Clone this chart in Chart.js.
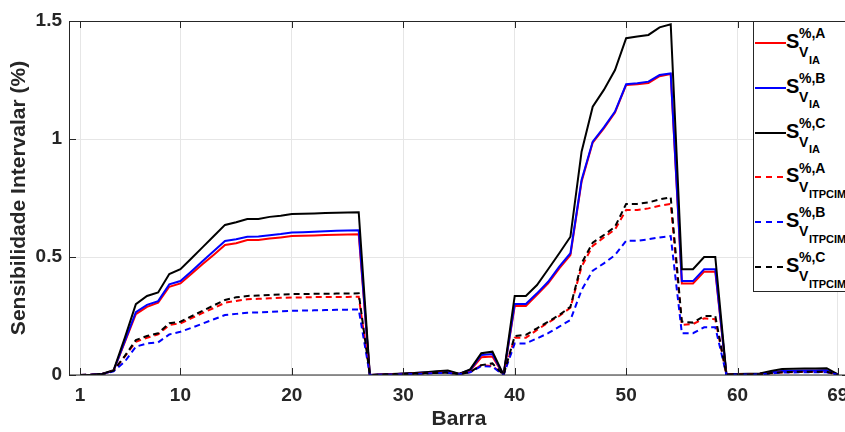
<!DOCTYPE html>
<html>
<head>
<meta charset="utf-8">
<script src="https://cdn.jsdelivr.net/npm/chart.js@4.4.0/dist/chart.umd.min.js"></script>
<style>
  html, body { margin: 0; padding: 0; background: #fff; }
  #wrap { position: relative; width: 845px; height: 432px; overflow: hidden; background: #fff; }
  #wrap canvas { position: absolute; left: 0; top: 0; }
  .leg-box { position: absolute; left: 753px; top: 21px; width: 120px; height: 269px; border: 1px solid #262626; background: #fff; }
  .leg { position: absolute; font-family: 'Liberation Sans', Arial, Helvetica, sans-serif; font-weight: bold; color: #000; white-space: nowrap; }
  .leg svg { position: absolute; }
</style>
</head>
<body>
<div id="wrap">
  <canvas id="chart" width="880" height="432"></canvas>
  <div class="leg-box"></div>
  <div id="legend"></div>
</div>
<script>
// Barras 1..69
const barras = Array.from({ length: 69 }, (_, i) => i + 1);
const xTicks = [1, 10, 20, 30, 40, 50, 60, 69];
const yTicks = [0, 0.5, 1, 1.5];

// Sensibilidade intervalar (%) - metodo IA
const sIA_A = [
  0, 0.001, 0.004, 0.018, 0.138, 0.258, 0.289, 0.306, 0.374, 0.388,
  0.429, 0.470, 0.510, 0.551, 0.558, 0.572, 0.572, 0.578, 0.583, 0.589,
  0.590, 0.591, 0.593, 0.594, 0.595, 0.596, 0, 0.002, 0.003, 0.005,
  0.007, 0.010, 0.013, 0.015, 0.004, 0.019, 0.075, 0.078, 0, 0.292,
  0.292, 0.340, 0.388, 0.452, 0.508, 0.819, 0.985, 1.045, 1.112, 1.229,
  1.232, 1.237, 1.266, 1.275, 0.388, 0.388, 0.438, 0.438, 0.002, 0.003,
  0.004, 0.005, 0.011, 0.016, 0.017, 0.018, 0.018, 0.019, 0.002
];
const sIA_B = [
  0, 0.001, 0.004, 0.018, 0.142, 0.266, 0.297, 0.313, 0.384, 0.398,
  0.440, 0.483, 0.525, 0.568, 0.575, 0.586, 0.587, 0.592, 0.597, 0.604,
  0.605, 0.607, 0.609, 0.611, 0.612, 0.613, 0, 0.002, 0.003, 0.005,
  0.008, 0.011, 0.014, 0.016, 0.004, 0.021, 0.085, 0.089, 0, 0.301,
  0.301, 0.346, 0.395, 0.459, 0.516, 0.826, 0.989, 1.049, 1.116, 1.232,
  1.236, 1.243, 1.271, 1.278, 0.398, 0.398, 0.448, 0.448, 0.002, 0.003,
  0.004, 0.005, 0.012, 0.017, 0.018, 0.019, 0.019, 0.020, 0.002
];
const sIA_C = [
  0, 0.001, 0.005, 0.020, 0.156, 0.300, 0.335, 0.350, 0.428, 0.448,
  0.495, 0.542, 0.589, 0.636, 0.647, 0.661, 0.661, 0.670, 0.675, 0.682,
  0.683, 0.684, 0.686, 0.688, 0.689, 0.690, 0, 0.002, 0.004, 0.006,
  0.009, 0.012, 0.016, 0.019, 0.005, 0.024, 0.092, 0.099, 0, 0.335,
  0.335, 0.381, 0.448, 0.516, 0.586, 0.946, 1.137, 1.208, 1.292, 1.427,
  1.434, 1.441, 1.473, 1.486, 0.448, 0.448, 0.500, 0.500, 0.003, 0.004,
  0.005, 0.006, 0.017, 0.025, 0.027, 0.028, 0.028, 0.029, 0.003
];

// Sensibilidade intervalar (%) - metodo ITPCIM
const sIT_A = [
  0, 0.001, 0.004, 0.018, 0.078, 0.141, 0.158, 0.172, 0.212, 0.219,
  0.241, 0.263, 0.284, 0.306, 0.314, 0.321, 0.323, 0.325, 0.327, 0.328,
  0.329, 0.330, 0.330, 0.331, 0.331, 0.332, 0, 0.001, 0.002, 0.003,
  0.005, 0.007, 0.009, 0.010, 0.003, 0.012, 0.042, 0.038, 0, 0.158,
  0.158, 0.191, 0.222, 0.250, 0.285, 0.459, 0.547, 0.583, 0.617, 0.699,
  0.699, 0.706, 0.717, 0.725, 0.212, 0.216, 0.240, 0.236, 0.001, 0.002,
  0.002, 0.003, 0.007, 0.011, 0.012, 0.013, 0.013, 0.013, 0.001
];
const sIT_B = [
  0, 0.001, 0.004, 0.016, 0.056, 0.120, 0.134, 0.138, 0.172, 0.183,
  0.200, 0.218, 0.236, 0.254, 0.259, 0.264, 0.265, 0.267, 0.270, 0.272,
  0.273, 0.274, 0.275, 0.276, 0.277, 0.278, 0, 0.001, 0.002, 0.003,
  0.004, 0.006, 0.008, 0.009, 0.003, 0.011, 0.038, 0.035, 0, 0.134,
  0.134, 0.155, 0.177, 0.205, 0.233, 0.360, 0.442, 0.473, 0.508, 0.569,
  0.569, 0.575, 0.583, 0.589, 0.177, 0.177, 0.202, 0.202, 0.001, 0.002,
  0.002, 0.003, 0.006, 0.010, 0.011, 0.012, 0.012, 0.012, 0.001
];
const sIT_C = [
  0, 0.001, 0.004, 0.018, 0.080, 0.148, 0.165, 0.177, 0.219, 0.226,
  0.249, 0.272, 0.295, 0.318, 0.329, 0.335, 0.337, 0.339, 0.341, 0.343,
  0.343, 0.344, 0.344, 0.345, 0.345, 0.346, 0, 0.001, 0.002, 0.003,
  0.005, 0.007, 0.009, 0.010, 0.003, 0.012, 0.042, 0.049, 0, 0.165,
  0.170, 0.198, 0.226, 0.254, 0.289, 0.473, 0.561, 0.593, 0.628, 0.725,
  0.725, 0.731, 0.744, 0.753, 0.226, 0.222, 0.250, 0.250, 0.001, 0.002,
  0.002, 0.003, 0.008, 0.012, 0.013, 0.014, 0.014, 0.014, 0.001
];

const legendSup = ['%,A', '%,B', '%,C', '%,A', '%,B', '%,C'];
const legendSub = ['IA', 'IA', 'IA', 'ITPCIM', 'ITPCIM', 'ITPCIM'];
const seriesColors = ['#ff0000', '#0000ff', '#000000', '#ff0000', '#0000ff', '#000000'];
const seriesValues = [sIA_A, sIA_B, sIA_C, sIT_A, sIT_B, sIT_C];

const FONT = "'Liberation Sans', Arial, Helvetica, sans-serif";
const AXIS = '#262626';

function makeDataset(i) {
  return {
    label: 'S' + legendSup[i] + ' V ' + legendSub[i],
    data: barras.map((b, k) => ({ x: b, y: seriesValues[i][k] })),
    borderColor: seriesColors[i],
    backgroundColor: seriesColors[i],
    borderWidth: 2,
    borderDash: i >= 3 ? [6, 4] : [],
    pointRadius: 0,
    tension: 0,
    fill: false,
    order: 5 - i
  };
}

// caixa e marcas de escala estilo MATLAB
const boxPlugin = {
  id: 'boxPlugin',
  afterDatasetsDraw(chart) {
    const { ctx, chartArea: a, scales } = chart;
    ctx.save();
    ctx.strokeStyle = AXIS;
    ctx.lineWidth = 1;
    ctx.beginPath();
    ctx.moveTo(a.left + 0.5, a.top);
    ctx.lineTo(a.left + 0.5, a.bottom);
    ctx.moveTo(a.left, a.top + 0.5);
    ctx.lineTo(a.right, a.top + 0.5);
    ctx.moveTo(a.left, a.bottom);
    ctx.lineTo(a.right, a.bottom);
    ctx.lineTo(a.right, a.top);
    const tl = 7;
    xTicks.forEach(v => {
      const x = Math.round(scales.x.getPixelForValue(v)) + 0.5;
      ctx.moveTo(x, a.bottom); ctx.lineTo(x, a.bottom - tl);
      ctx.moveTo(x, a.top); ctx.lineTo(x, a.top + tl);
    });
    yTicks.forEach(v => {
      const y = Math.round(scales.y.getPixelForValue(v)) + 0.5;
      ctx.moveTo(a.left, y); ctx.lineTo(a.left + tl, y);
      ctx.moveTo(a.right, y); ctx.lineTo(a.right - tl, y);
    });
    ctx.stroke();
    ctx.restore();
  }
};

new Chart(document.getElementById('chart').getContext('2d'), {
  type: 'line',
  data: { datasets: seriesValues.map((_, i) => makeDataset(i)) },
  options: {
    responsive: false,
    animation: false,
    events: [],
    layout: { padding: { top: 21, right: 31, left: 0, bottom: 0 } },
    plugins: { legend: { display: false }, tooltip: { enabled: false } },
    scales: {
      x: {
        type: 'linear',
        min: 0,
        max: 70,
        afterFit: s => { s.height = 57; },
        afterBuildTicks: s => { s.ticks = xTicks.map(v => ({ value: v })); },
        grid: { color: '#e6e6e6', drawTicks: false },
        border: { display: false },
        ticks: {
          padding: 9,
          color: AXIS,
          font: { family: FONT, size: 19, weight: 'bold' },
          maxRotation: 0,
          autoSkip: false,
          callback: v => String(v)
        },
        title: {
          display: true,
          text: 'Barra',
          color: AXIS,
          padding: { top: 0, bottom: 0 },
          font: { family: FONT, size: 21, weight: 'bold' }
        }
      },
      y: {
        min: 0,
        max: 1.5,
        afterFit: s => { s.width = 69; },
        afterBuildTicks: s => { s.ticks = yTicks.map(v => ({ value: v })); },
        grid: { color: '#e6e6e6', drawTicks: false },
        border: { display: false },
        ticks: {
          padding: 7,
          color: AXIS,
          font: { family: FONT, size: 19, weight: 'bold' },
          callback: v => String(v)
        },
        title: {
          display: true,
          text: 'Sensibilidade Intervalar (%)',
          color: AXIS,
          padding: { top: 7, bottom: 0 },
          font: { family: FONT, size: 21, weight: 'bold' }
        }
      }
    }
  },
  plugins: [boxPlugin]
});

// legenda em HTML (texto com sobrescrito e subscrito)
const legend = document.getElementById('legend');
legendSup.forEach((sup, i) => {
  const yl = 43 + 44.8 * i;
  const dash = i >= 3 ? ' stroke-dasharray="6 5"' : '';
  const parts = [
    '<svg style="left:755px;top:' + (yl - 2) + 'px" width="31" height="4">' +
      '<line x1="0" y1="2" x2="31" y2="2" stroke="' + seriesColors[i] + '" stroke-width="2"' + dash + '/></svg>',
    '<span style="left:786px;top:' + (yl + 5 - 0.8465 * 20) + 'px;font-size:20px;line-height:20px">S</span>',
    '<span style="left:799px;top:' + (yl - 5 - 0.8465 * 14) + 'px;font-size:14px;line-height:14px">' + sup + '</span>',
    '<span style="left:799px;top:' + (yl + 14 - 0.8465 * 14) + 'px;font-size:14px;line-height:14px">V</span>',
    '<span style="left:809px;top:' + (yl + 21 - 0.8465 * 11) + 'px;font-size:11px;line-height:11px">' + legendSub[i] + '</span>'
  ];
  parts.forEach(p => {
    const d = document.createElement('div');
    d.innerHTML = p;
    const el = d.firstChild;
    if (el.tagName === 'SPAN') el.className = 'leg';
    el.style.position = 'absolute';
    legend.appendChild(el);
  });
});
</script>
</body>
</html>
